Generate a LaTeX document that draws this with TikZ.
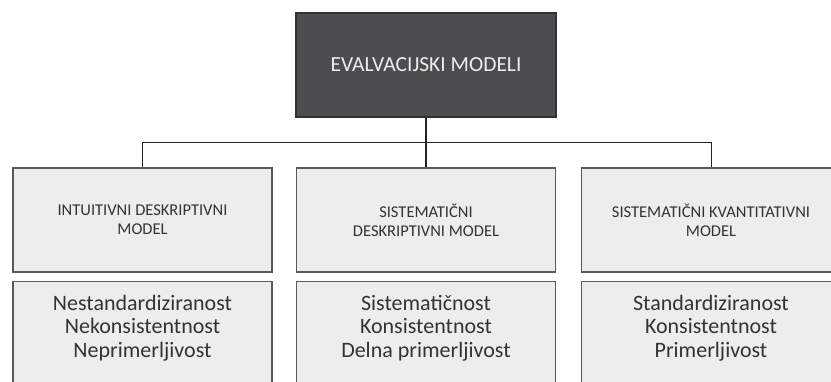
\documentclass[tikz,border=0pt]{standalone}
\usepackage{fontspec}
\setmainfont{Carlito}
\definecolor{darkbox}{HTML}{4D4D4F}
\definecolor{lightbox}{HTML}{EDEDED}
\definecolor{boxline}{HTML}{5A5A5A}
\definecolor{txt}{HTML}{333333}
\definecolor{conn}{HTML}{222222}
\begin{document}
\begin{tikzpicture}[x=1pt,y=1pt,
  topbox/.style={draw=black!80, line width=1.2pt, fill=darkbox, text=white!93!black,
    minimum width=260, minimum height=104, inner sep=0pt,
    font=\fontsize{21.5}{26}\selectfont},
  modelbox/.style={draw=boxline, line width=1.2pt, fill=lightbox, text=txt,
    minimum width=259, minimum height=104, inner sep=0pt, align=center,
    font=\fontsize{16.5}{19}\selectfont},
  propbox/.style={draw=boxline, line width=1.2pt, fill=lightbox,
    minimum width=259, minimum height=120, inner sep=0pt, anchor=north},
  proptext/.style={text=txt, align=center, inner sep=0pt, anchor=north,
    font=\fontsize{22}{23.3}\selectfont},
  conn/.style={draw=conn, line width=1pt},
  connthick/.style={draw=conn, line width=2pt}]
\clip (0,0) rectangle (831,-381);
\fill[white] (0,0) rectangle (831,-381);

\node[topbox] (top) at (426,-65) {EVALVACIJSKI MODELI};

\node[modelbox] (m1) at (142.5,-220) {INTUITIVNI DESKRIPTIVNI\\MODEL};
\node[modelbox] (m2) at (426,-220) {SISTEMATIČNI\\DESKRIPTIVNI MODEL};
\node[modelbox] (m3) at (711,-220) {SISTEMATIČNI KVANTITATIVNI\\MODEL};

\node[propbox, label={[proptext, yshift=-14]north:Nestandardiziranost\\Nekonsistentnost\\Neprimerljivost}] (p1) at (142.5,-281) {};
\node[propbox, label={[proptext, yshift=-14]north:Sistematičnost\\Konsistentnost\\Delna primerljivost}] (p2) at (426,-281) {};
\node[propbox, label={[proptext, yshift=-14]north:Standardiziranost\\Konsistentnost\\Primerljivost}] (p3) at (711,-281) {};

\coordinate (bus) at (426,-142.5);
\draw[conn] (m1.north) |- (bus) -| (m3.north);
\draw[connthick] (top.south) -- (m2.north);
\end{tikzpicture}
\end{document}
